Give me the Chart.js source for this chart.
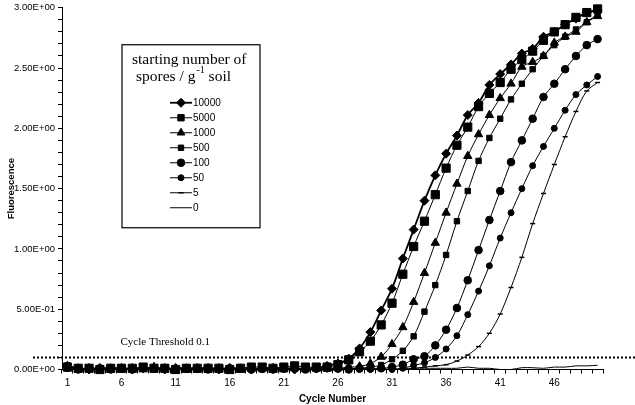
<!DOCTYPE html>
<html>
<head>
<meta charset="utf-8">
<script src="https://cdn.jsdelivr.net/npm/chart.js@4.4.1/dist/chart.umd.min.js"></script>
<style>
  html, body { margin: 0; padding: 0; background: #fff; }
  #wrap { width: 635px; height: 405px; position: relative; }
</style>
</head>
<body>
<div id="wrap"><canvas id="pcrChart"></canvas></div>
<script>
// cycle numbers on the x axis
const cycles = ['1','2','3','4','5','6','7','8','9','10','11','12','13','14','15','16','17','18','19','20',
  '21','22','23','24','25','26','27','28','29','30','31','32','33','34','35','36','37','38','39','40',
  '41','42','43','44','45','46','47','48','49','50'];

const seriesLabels = ['10000', '5000', '1000', '500', '100', '50', '5', '0'];

// fluorescence readings, one value per cycle
const spores10000 = [0.03,0.01,0.00,0.01,0.01,0.01,0.00,0.01,0.01,0.00,0.01,0.01,0.01,0.01,0.00,0.01,0.01,0.00,0.01,0.01,
  0.01,0.00,0.01,0.01,0.03,0.05,0.09,0.175,0.31,0.49,0.67,0.92,1.16,1.40,1.61,1.79,1.94,2.11,2.21,2.36,
  2.45,2.53,2.62,2.66,2.76,2.80,2.86,2.91,2.96,2.98];
const spores5000 = [0.02,0.01,0.01,0.00,0.01,0.01,0.01,0.02,0.01,0.01,0.00,0.01,0.01,0.01,0.01,0.00,0.01,0.02,0.02,0.01,
  0.02,0.03,0.02,0.02,0.02,0.04,0.08,0.147,0.235,0.37,0.55,0.79,1.02,1.23,1.45,1.67,1.86,2.01,2.18,2.29,
  2.38,2.49,2.57,2.64,2.73,2.80,2.86,2.92,2.96,2.99];
const spores1000 = [0.01,0.00,0.01,0.01,0.00,0.01,0.01,0.00,0.02,0.01,0.01,0.00,0.01,0.01,0.01,0.01,0.00,0.01,0.01,0.01,
  0.00,0.01,0.01,0.01,0.01,0.01,0.02,0.025,0.05,0.105,0.21,0.35,0.56,0.80,1.05,1.30,1.54,1.77,1.95,2.11,
  2.25,2.37,2.51,2.55,2.60,2.71,2.76,2.80,2.88,2.93];
const spores500 = [0.01,0.01,0.00,0.01,0.01,0.00,0.01,0.01,0.01,0.00,0.01,0.01,0.00,0.01,0.01,0.00,0.01,0.01,0.00,0.01,
  0.01,0.01,0.00,0.01,0.01,0.01,0.01,0.01,0.02,0.037,0.085,0.155,0.275,0.48,0.70,0.95,1.23,1.48,1.73,1.92,
  2.08,2.24,2.37,2.49,2.60,2.69,2.76,2.82,2.88,2.95];
const spores100 = [0.03,0.00,0.01,0.01,0.00,0.01,0.00,0.01,0.01,0.01,0.00,0.01,0.01,0.00,0.01,0.01,0.01,0.00,0.01,0.00,
  0.01,0.01,0.00,0.01,0.01,0.01,0.00,0.01,0.01,0.01,0.02,0.04,0.085,0.11,0.20,0.33,0.51,0.74,0.99,1.24,
  1.48,1.72,1.90,2.08,2.26,2.37,2.49,2.60,2.69,2.74];
const spores50 = [0.01,0.00,0.01,0.00,0.01,0.01,0.00,0.01,0.00,0.01,0.01,0.00,0.01,0.01,0.00,0.00,0.01,0.01,0.00,0.01,
  0.00,0.01,0.00,0.00,0.01,0.00,0.01,0.00,0.00,0.01,0.00,0.01,0.035,0.055,0.10,0.17,0.28,0.455,0.65,0.86,
  1.09,1.30,1.50,1.69,1.85,2.00,2.15,2.28,2.36,2.43];
const spores5 = [0.01,0.00,0.00,0.01,0.00,0.00,0.01,0.00,0.00,0.00,0.01,0.00,0.00,0.00,0.00,0.01,0.00,0.00,0.00,0.00,
  0.00,0.00,0.01,0.00,0.00,0.00,0.00,0.00,0.01,0.00,0.00,0.01,0.01,0.02,0.03,0.04,0.07,0.12,0.19,0.30,
  0.46,0.68,0.93,1.21,1.46,1.70,1.93,2.14,2.31,2.38];
const spores0 = [0.00,0.00,0.00,0.00,0.00,0.00,0.00,0.00,0.00,0.00,0.00,0.00,0.00,0.00,0.00,0.00,0.00,0.00,0.00,0.00,
  0.00,0.00,0.00,0.00,0.00,0.00,0.00,0.00,0.00,0.00,0.00,0.00,0.01,0.01,0.01,0.01,0.01,0.02,0.01,0.01,
  0.00,0.00,0.015,0.015,0.01,0.02,0.02,0.03,0.03,0.035];

const yTicksMin = 0;
const yTicksMax = 3;
const yTickStep = 0.1;
const thresholdValue = 0.1;
const thresholdLabel = 'Cycle Threshold 0.1';

function sciLabel(v) {
  const parts = v.toExponential(2).split('e');
  const exp = parseInt(parts[1], 10);
  return parts[0] + 'E' + (exp < 0 ? '-' : '+') + String(Math.abs(exp)).padStart(2, '0');
}

const sansFont = '"Liberation Sans", Arial, sans-serif';
const serifFont = '"Liberation Serif", "Times New Roman", serif';

function makeSet(label, data, style, radius, width) {
  return {
    label: label,
    data: data,
    borderColor: '#000',
    backgroundColor: '#000',
    borderWidth: width || 1,
    pointStyle: style,
    pointRadius: radius,
    pointBorderWidth: style === 'line' ? 1.5 : 1,
    pointHoverRadius: radius,
    tension: 0.3,
    clip: false
  };
}

const overlayPlugin = {
  id: 'overlay',
  afterDraw(chart) {
    const ctx = chart.ctx;
    const area = chart.chartArea;
    const yScale = chart.scales.y;
    const xScale = chart.scales.x;

    // dotted threshold line
    const ty = yScale.getPixelForValue(thresholdValue);
    ctx.save();
    ctx.strokeStyle = '#000';
    ctx.lineWidth = 2;
    ctx.setLineDash([2, 2]);
    ctx.beginPath();
    ctx.moveTo(area.left - 29, ty);
    ctx.lineTo(chart.width, ty);
    ctx.stroke();
    ctx.setLineDash([]);

    ctx.fillStyle = '#000';
    ctx.font = '11px ' + serifFont;
    ctx.textBaseline = 'middle';
    ctx.textAlign = 'left';
    ctx.fillText(thresholdLabel, xScale.getPixelForValue(5) - 1, yScale.getPixelForValue(0.23));

    // legend box
    const bx = area.left + 60;
    const by = area.top + 37;
    const bw = 138;
    const bh = 183;
    ctx.fillStyle = '#fff';
    ctx.fillRect(bx, by, bw, bh);
    ctx.strokeStyle = '#000';
    ctx.lineWidth = 1.2;
    ctx.strokeRect(bx, by, bw, bh);

    ctx.fillStyle = '#000';
    ctx.font = '15.5px ' + serifFont;
    ctx.fillText('starting number of', bx + 10, by + 15);
    let tx = bx + 14;
    const line2y = by + 32;
    ctx.fillText('spores / g', tx, line2y);
    tx += ctx.measureText('spores / g').width;
    ctx.font = '10px ' + serifFont;
    ctx.fillText('-1', tx + 1, line2y - 6);
    tx += ctx.measureText('-1').width + 1;
    ctx.font = '15.5px ' + serifFont;
    ctx.fillText(' soil', tx, line2y);

    ctx.font = '10px ' + sansFont;
    chart.data.datasets.forEach((ds, i) => {
      const iy = by + 58 + i * 15;
      ctx.strokeStyle = '#000';
      ctx.lineWidth = ds.borderWidth;
      ctx.beginPath();
      ctx.moveTo(bx + 48, iy);
      ctx.lineTo(bx + 70, iy);
      ctx.stroke();
      if (ds.pointRadius > 0) {
        ctx.fillStyle = '#000';
        ctx.lineWidth = ds.pointBorderWidth;
        Chart.helpers.drawPoint(ctx, {
          pointStyle: ds.pointStyle,
          radius: Math.min(ds.pointRadius, 4.5),
          rotation: 0,
          borderWidth: ds.pointBorderWidth
        }, bx + 59, iy);
      }
      ctx.fillStyle = '#000';
      ctx.fillText(ds.label, bx + 71, iy + 0.5);
    });
    ctx.restore();
  }
};

const ctx = document.getElementById('pcrChart').getContext('2d');
new Chart(ctx, {
  type: 'line',
  data: {
    labels: cycles,
    datasets: [
      makeSet(seriesLabels[0], spores10000, 'rectRot', 4.5, 1.8),
      makeSet(seriesLabels[1], spores5000, 'rect', 5.8),
      makeSet(seriesLabels[2], spores1000, 'triangle', 4.8),
      makeSet(seriesLabels[3], spores500, 'rect', 3.8),
      makeSet(seriesLabels[4], spores100, 'circle', 3.8),
      makeSet(seriesLabels[5], spores50, 'circle', 3),
      makeSet(seriesLabels[6], spores5, 'line', 2.5),
      makeSet(seriesLabels[7], spores0, 'line', 0)
    ]
  },
  options: {
    responsive: true,
    maintainAspectRatio: false,
    animation: false,
    layout: { padding: { top: 0, right: 32, left: 0, bottom: 0 } },
    plugins: {
      legend: { display: false },
      tooltip: { enabled: false }
    },
    scales: {
      x: {
        offset: true,
        grid: { display: true, offset: true, drawOnChartArea: false, tickLength: 4, color: '#000' },
        border: { display: true, color: '#000', width: 1 },
        ticks: {
          autoSkip: false,
          maxRotation: 0,
          padding: 4,
          color: '#000',
          font: { family: sansFont, size: 10 },
          callback: function (val, idx) { return idx % 5 === 0 ? cycles[idx] : ''; }
        },
        title: {
          display: true,
          text: 'Cycle Number',
          color: '#000',
          font: { family: sansFont, size: 10, weight: 'bold' },
          padding: { top: 0, bottom: 0 }
        },
        afterFit: function (scale) { scale.height = 35.5; }
      },
      y: {
        min: yTicksMin,
        max: yTicksMax,
        grid: { display: true, drawOnChartArea: false, tickLength: 4, color: '#000' },
        border: { display: true, color: '#000', width: 1 },
        ticks: {
          stepSize: yTickStep,
          autoSkip: false,
          padding: 3,
          color: '#000',
          font: { family: sansFont, size: 9.5, lineHeight: 1 },
          callback: function (v) {
            return Math.abs(v * 2 - Math.round(v * 2)) < 1e-6 ? sciLabel(v) : '';
          }
        },
        title: {
          display: true,
          text: 'Fluorescence',
          color: '#000',
          font: { family: sansFont, size: 9.5, weight: 'bold' },
          padding: { top: 6, bottom: 0 }
        },
        afterFit: function (scale) { scale.width = 62; }
      }
    }
  },
  plugins: [overlayPlugin]
});
</script>
</body>
</html>
